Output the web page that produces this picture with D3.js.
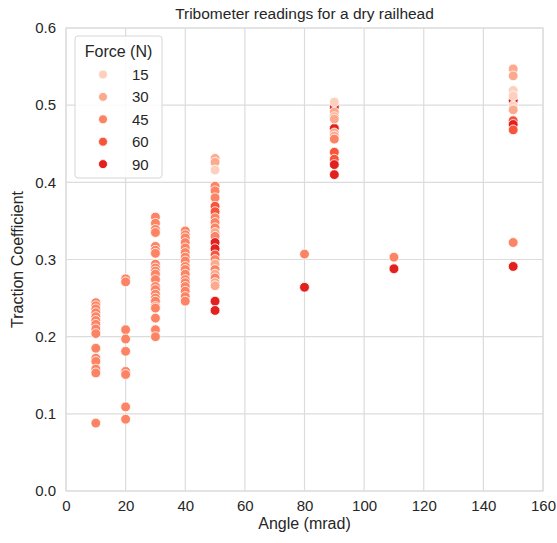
<!DOCTYPE html>
<html>
<head>
<meta charset="utf-8">
<script src="https://cdn.jsdelivr.net/npm/d3@7"></script>
<style>
  body { margin: 0; background: #fff; }
  text { font-family: "Liberation Sans", Arial, sans-serif; fill: #262626; }
</style>
</head>
<body>
<script>
// readings: [traction coefficient, force (N)] per test angle (mrad)
const angle10 = [[0.244,45],[0.240,45],[0.236,45],[0.231,45],[0.226,45],[0.221,45],[0.216,45],[0.210,45],[0.204,45],[0.185,45],[0.172,45],[0.168,45],[0.158,45],[0.153,45],[0.088,45]];
const angle20 = [[0.275,45],[0.271,45],[0.209,45],[0.197,45],[0.181,45],[0.155,45],[0.151,45],[0.109,45],[0.093,45]];
const angle30 = [[0.355,45],[0.347,45],[0.339,45],[0.335,45],[0.317,45],[0.312,45],[0.308,45],[0.294,45],[0.289,45],[0.285,45],[0.281,45],[0.274,45],[0.265,45],[0.261,45],[0.255,45],[0.250,45],[0.246,45],[0.239,45],[0.237,45],[0.224,45],[0.209,45],[0.200,45]];
const angle40 = [[0.337,45],[0.332,45],[0.328,45],[0.322,45],[0.315,45],[0.309,45],[0.303,45],[0.298,45],[0.291,45],[0.287,45],[0.281,45],[0.274,45],[0.270,45],[0.265,45],[0.259,45],[0.252,45],[0.246,45]];
const angle50 = [[0.431,30],[0.426,30],[0.416,15],[0.395,45],[0.389,45],[0.380,45],[0.369,60],[0.362,60],[0.354,45],[0.348,45],[0.341,45],[0.335,30],[0.330,45],[0.322,90],[0.314,90],[0.306,60],[0.300,45],[0.294,30],[0.287,45],[0.281,30],[0.276,45],[0.270,30],[0.266,30],[0.246,90],[0.234,90]];
const angle80 = [[0.307,45],[0.264,90]];
const angle90 = [[0.498,90],[0.470,90],[0.504,15],[0.491,30],[0.485,30],[0.482,30],[0.464,30],[0.460,30],[0.456,45],[0.439,60],[0.430,60],[0.423,90],[0.410,90]];
const angle110 = [[0.303,45],[0.288,90]];
const angle150 = [[0.506,90],[0.547,30],[0.538,30],[0.519,15],[0.512,15],[0.499,15],[0.494,30],[0.480,60],[0.475,90],[0.468,60],[0.322,45],[0.291,90]];

const angles = [10, 20, 30, 40, 50, 80, 90, 110, 150];
const readingsByAngle = [angle10, angle20, angle30, angle40, angle50, angle80, angle90, angle110, angle150];
const forceLevels = [15, 30, 45, 60, 90];
const forceColors = ['#fdd0bd', '#fcaa8e', '#fc8464', '#f6553c', '#e2201e'];
const xTicks = [0, 20, 40, 60, 80, 100, 120, 140, 160];
const yTicks = [0.0, 0.1, 0.2, 0.3, 0.4, 0.5, 0.6];

const width = 557, height = 543;
const margin = {top: 28, right: 14, bottom: 52, left: 66};

const svg = d3.select('body')
  .append('svg')
  .attr('width', width)
  .attr('height', height);

const x = d3.scaleLinear().domain([0, 160]).range([margin.left, width - margin.right]);
const y = d3.scaleLinear().domain([0, 0.6]).range([height - margin.bottom, margin.top]);
const color = d3.scaleOrdinal().domain(forceLevels).range(forceColors);

// grid
svg.append('g')
  .selectAll('line')
  .data(xTicks)
  .enter()
  .append('line')
  .attr('x1', d => x(d)).attr('x2', d => x(d))
  .attr('y1', y(0.6)).attr('y2', y(0))
  .attr('stroke', '#dcdcdc').attr('stroke-width', 1.2);

svg.append('g')
  .selectAll('line')
  .data(yTicks)
  .enter()
  .append('line')
  .attr('x1', x(0)).attr('x2', x(160))
  .attr('y1', d => y(d)).attr('y2', d => y(d))
  .attr('stroke', '#dcdcdc').attr('stroke-width', 1.2);

// axes (labels only, seaborn whitegrid style)
const xAxis = svg.append('g')
  .attr('transform', `translate(0,${y(0)})`)
  .call(d3.axisBottom(x).tickValues(xTicks).tickSize(0).tickPadding(9).tickFormat(d3.format('d')));
const yAxis = svg.append('g')
  .attr('transform', `translate(${x(0)},0)`)
  .call(d3.axisLeft(y).tickValues(yTicks).tickSize(0).tickPadding(10).tickFormat(d3.format('.1f')));
[xAxis, yAxis].forEach(a => {
  a.select('.domain').remove();
  a.selectAll('text')
    .style('font-size', '15px')
    .style('font-family', '"Liberation Sans", Arial, sans-serif')
    .attr('fill', '#262626');
});

// frame
svg.append('rect')
  .attr('x', x(0)).attr('y', y(0.6))
  .attr('width', x(160) - x(0)).attr('height', y(0) - y(0.6))
  .attr('fill', 'none').attr('stroke', '#dcdcdc').attr('stroke-width', 1.2);

// points
const points = [];
angles.forEach((a, i) => {
  readingsByAngle[i].forEach(r => points.push({angle: a, traction: r[0], force: r[1]}));
});

svg.append('g')
  .selectAll('circle')
  .data(points)
  .enter()
  .append('circle')
  .attr('cx', d => x(d.angle))
  .attr('cy', d => y(d.traction))
  .attr('r', 4.9)
  .attr('fill', d => color(d.force))
  .attr('stroke', '#fff')
  .attr('stroke-width', 0.8);

// titles
svg.append('text')
  .attr('x', (x(0) + x(160)) / 2).attr('y', 19)
  .attr('text-anchor', 'middle')
  .style('font-size', '15.5px')
  .text('Tribometer readings for a dry railhead');

svg.append('text')
  .attr('x', (x(0) + x(160)) / 2).attr('y', 529)
  .attr('text-anchor', 'middle')
  .style('font-size', '16px')
  .text('Angle (mrad)');

svg.append('text')
  .attr('transform', `translate(23,${(y(0) + y(0.6)) / 2}) rotate(-90)`)
  .attr('text-anchor', 'middle')
  .style('font-size', '16px')
  .text('Traction Coefficient');

// legend
const legend = svg.append('g').attr('transform', 'translate(75,36)');
legend.append('rect')
  .attr('width', 87).attr('height', 142)
  .attr('rx', 3)
  .attr('fill', 'rgba(255,255,255,0.85)')
  .attr('stroke', '#d6d6d6');
legend.append('text')
  .attr('x', 43.5).attr('y', 21)
  .attr('text-anchor', 'middle')
  .style('font-size', '16px')
  .text('Force (N)');
const items = legend.selectAll('g.item')
  .data(forceLevels)
  .enter()
  .append('g')
  .attr('class', 'item')
  .attr('transform', (d, i) => `translate(0,${38.5 + i * 22.4})`);
items.append('circle')
  .attr('cx', 28).attr('r', 4.5)
  .attr('fill', d => color(d))
  .attr('stroke', '#fff').attr('stroke-width', 0.8);
items.append('text')
  .attr('x', 57).attr('y', 5.5)
  .style('font-size', '15px')
  .text(d => d);
</script>
</body>
</html>
